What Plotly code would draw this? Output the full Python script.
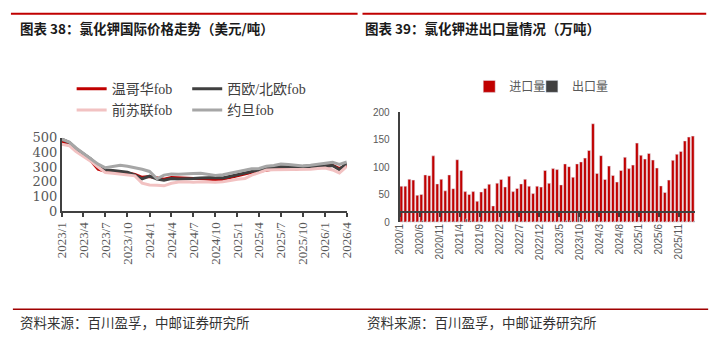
import plotly.graph_objects as go
import pandas as pd

W, H = 723, 344

# ---------------- Left chart data (USD/t), monthly 2023/1 - 2026/4 ----------------
price_dates = pd.date_range("2023-01-01", "2026-04-01", freq="MS")
vancouver = [467, 456, 420, 382, 345, 285, 271, 268, 265, 260, 250, 230, 235, 225, 217, 228,
             225, 222, 222, 222, 218, 213, 217, 228, 239, 252, 265, 271, 280, 287, 287, 287,
             287, 293, 296, 300, 304, 312, 290, 308]
w_n_europe = [490, 467, 425, 388, 355, 300, 280, 276, 272, 265, 245, 220, 238, 218, 210, 222,
              218, 218, 222, 226, 228, 228, 226, 238, 250, 260, 270, 278, 290, 296, 304, 300,
              296, 293, 300, 305, 308, 310, 282, 326]
fsu = [455, 446, 405, 372, 340, 300, 262, 258, 252, 250, 240, 190, 178, 175, 172, 189,
       198, 200, 196, 200, 198, 196, 200, 210, 217, 222, 245, 262, 280, 282, 282, 282,
       282, 282, 285, 290, 293, 280, 260, 304]
jordan = [490, 470, 430, 392, 360, 320, 295, 305, 312, 305, 295, 285, 270, 220, 245, 252,
          250, 255, 256, 258, 250, 243, 248, 258, 271, 283, 288, 290, 305, 310, 320, 318,
          315, 308, 312, 318, 326, 332, 318, 335]
price_series = ["温哥华fob", "西欧/北欧fob", "前苏联fob", "约旦fob"]
price_colors = ["#C00000", "#404040", "#F2C2C2", "#A6A6A6"]
left_tick_dates = pd.date_range("2023-01-01", "2026-04-01", freq="3MS")
left_tick_text = [f"{d.year}/{d.month}" for d in left_tick_dates]

# ---------------- Right chart data (10k t), monthly 2020/1 - 2026/2 ----------------
trade_dates = pd.date_range("2020-01-01", "2026-02-01", freq="MS")
imports = [65.5, 65.5, 78, 76.5, 49, 50.5, 86, 84.6, 120.6, 69.6, 78, 57, 86, 61, 113.6, 94,
           55.6, 50.5, 55.6, 38, 55, 61.4, 69, 29.6, 71, 77.7, 64, 83.5, 55.6, 61.4, 69.6, 78,
           65.5, 52, 65.5, 63.8, 94, 70.7, 97.4, 95.7, 67.8, 106, 101, 81.7, 106, 109.6, 116.5,
           130.4, 179, 88.7, 121, 77.7, 102, 85, 73, 94, 118, 97.4, 103.8, 143.8, 121.7, 114.8,
           125, 113, 98.5, 66, 54, 76.5, 112.5, 123.5, 128.7, 147.8, 154.8, 156.5]
exports = [1.5, 1.2, 1.8, 1.0, 1.5, 3.0, 1.4, 1.2, 1.6, 1.0, 1.3, 1.5, 1.2, 1.8, 1.4, 1.6,
           6.0, 3.0, 1.5, 1.2, 1.0, 1.4, 1.8, 1.2, 1.5, 1.3, 1.0, 1.6, 1.2, 1.4, 1.5, 1.2,
           1.0, 1.3, 1.4, 1.6, 1.2, 1.5, 1.8, 1.4, 1.6, 3.0, 3.0, 1.5, 18.0, 1.8, 5.0, 1.5,
           1.2, 1.4, 1.6, 1.2, 1.0, 1.5, 1.3, 1.2, 1.4, 1.6, 1.2, 1.0, 1.5, 1.3, 1.4, 1.2,
           1.6, 1.0, 1.2, 1.4, 1.5, 1.3, 1.2, 1.4, 1.5, 1.6]
trade_series = ["进口量", "出口量"]
trade_colors = ["#C00000", "#404040"]
trade_idx = list(range(len(trade_dates)))
right_tick_idx = trade_idx[::5]
right_tick_text = [f"{trade_dates[i].year}/{trade_dates[i].month}" for i in right_tick_idx]

SERIF = "Liberation Serif, Noto Sans CJK SC, serif"
WIDE_SERIF = "DejaVu Serif, serif"
SANS = "Liberation Sans, Noto Sans CJK SC, sans-serif"
CJK = "Noto Sans CJK SC"

def px_x(v):
    return v / W

def px_y(v):
    return 1 - v / H

fig = go.Figure()

# one legend box per entry so that the 2x2 grid / tight row can be placed freely
price_legends = ["legend", "legend4", "legend3", "legend5"]
for name, vals, col, lg in zip(price_series, [vancouver, w_n_europe, fsu, jordan], price_colors, price_legends):
    fig.add_trace(go.Scatter(x=price_dates, y=vals, name=name, mode="lines",
                             line=dict(color=col, width=3), xaxis="x", yaxis="y", legend=lg))

fig.add_trace(go.Bar(x=trade_idx, y=imports, name=trade_series[0], marker_color=trade_colors[0],
                     offset=0.05, width=0.72, xaxis="x2", yaxis="y2", legend="legend2"))
fig.add_trace(go.Bar(x=trade_idx, y=exports, name=trade_series[1], marker_color=trade_colors[1],
                     offset=0.55, width=0.4, xaxis="x2", yaxis="y2", legend="legend6"))

leg_font = dict(family=SERIF, size=14, color="#404040")

def leg(x, y, font):
    return dict(orientation="h", x=px_x(x), xanchor="left", y=px_y(y), yanchor="middle",
                itemwidth=30, font=font, bgcolor="rgba(0,0,0,0)", borderwidth=0)

right_leg_font = dict(family=CJK, size=12, color="#595959")
fig.update_layout(
    width=W, height=H, margin=dict(l=0, r=0, t=0, b=0),
    paper_bgcolor="white", plot_bgcolor="white",
    barmode="overlay",
    xaxis=dict(domain=[px_x(55), px_x(346)], type="date",
               range=[price_dates[0], price_dates[-1]],
               tickvals=left_tick_dates, ticktext=left_tick_text, tickangle=-90,
               ticks="outside", ticklen=4, tickwidth=2, tickcolor="#404040",
               showline=True, linecolor="#404040", linewidth=2, showgrid=False, zeroline=False,
               tickfont=dict(family=SERIF, size=13, color="#595959")),
    yaxis=dict(domain=[px_y(213.3), px_y(136.7)], range=[0, 500], dtick=100,
               showline=True, linecolor="#404040", linewidth=2, showgrid=False, zeroline=False,
               ticks="", tickfont=dict(family=WIDE_SERIF, size=13, color="#595959")),
    xaxis2=dict(domain=[px_x(400), px_x(701.7)], range=[0, len(trade_idx)],
                tickvals=right_tick_idx, ticktext=right_tick_text, tickangle=-90,
                ticks="outside", ticklen=4, tickwidth=2, tickcolor="#404040",
                showline=True, linecolor="#404040", linewidth=2, showgrid=False, zeroline=False,
                ticklabelstandoff=3,
                tickfont=dict(family=SANS, size=10, color="#595959")),
    yaxis2=dict(domain=[px_y(225), px_y(110)], range=[0, 200], dtick=50, anchor="x2",
                showline=True, linecolor="#404040", linewidth=2, showgrid=False, zeroline=False,
                ticks="", ticklabelstandoff=6, tickfont=dict(family=SANS, size=10, color="#595959")),
    legend=leg(65, 86, leg_font),
    legend4=leg(183, 86, leg_font),
    legend3=leg(65, 108, leg_font),
    legend5=leg(183, 108, leg_font),
    legend2=leg(471, 83, right_leg_font),
    legend6=leg(535, 83, right_leg_font),
    showlegend=True,
)

# Decorative header / footer rules
for x0, x1 in [(3, 357), (362, 713)]:
    fig.add_shape(type="line", xref="paper", yref="paper", x0=px_x(x0), x1=px_x(x1),
                  y0=px_y(7), y1=px_y(7), line=dict(color="#C00000", width=2))
fig.add_shape(type="line", xref="paper", yref="paper", x0=px_x(5), x1=px_x(715),
              y0=px_y(316), y1=px_y(316), line=dict(color="#A00000", width=1.5))

titles = [("图表 38：氯化钾国际价格走势（美元/吨）", 10), ("图表 39：氯化钾进出口量情况（万吨）", 363)]
for txt, x in titles:
    fig.add_annotation(text=f"<b>{txt}</b>", xref="paper", yref="paper", x=px_x(x), y=px_y(22),
                       xanchor="left", yanchor="middle", showarrow=False,
                       font=dict(family=CJK, size=13.5, color="#1a1a1a"))
for x in [10, 365]:
    fig.add_annotation(text="资料来源：百川盈孚，中邮证券研究所", xref="paper", yref="paper",
                       x=px_x(x), y=px_y(329), xanchor="left", yanchor="middle", showarrow=False,
                       font=dict(family=CJK, size=13.5, color="#333333"))

fig.write_html("out.html")
